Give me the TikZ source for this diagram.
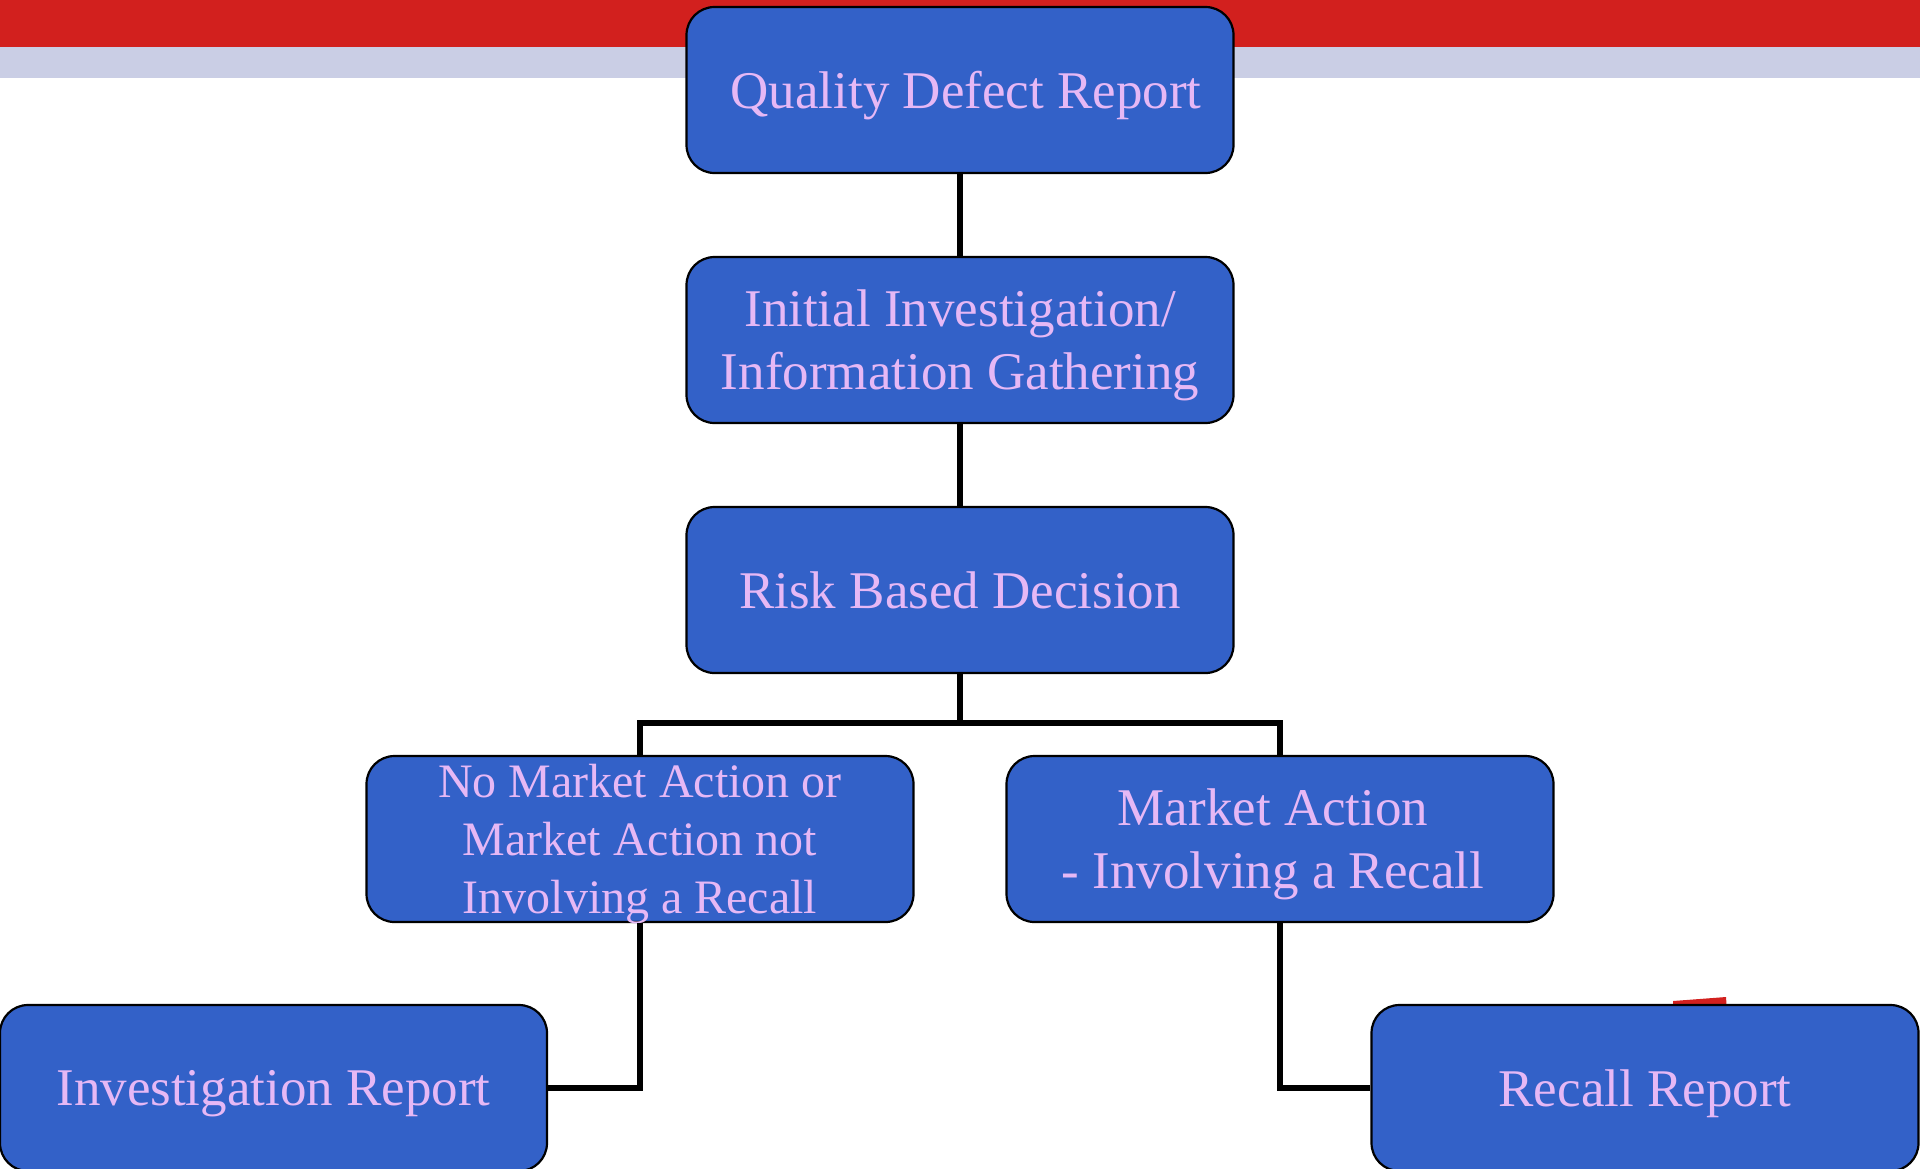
\documentclass[tikz,border=0pt]{standalone}
\usepackage{fontspec}
\setmainfont{Liberation Serif}
\usepackage{tikz}

\definecolor{bandred}{RGB}{210,32,30}
\definecolor{bandgrey}{RGB}{202,206,229}
\definecolor{boxblue}{RGB}{51,97,200}
\definecolor{boxtext}{RGB}{230,184,245}

\tikzset{
  flowbox/.style={draw=black, line width=1.1pt, fill=boxblue, text=boxtext,
    rounded corners=14pt, minimum width=273.5pt, minimum height=83pt,
    inner sep=0pt, text depth=0pt, align=center,
    font=\fontsize{26.5}{31.5}\selectfont},
  smalltext/.style={font=\fontsize{24}{29}\selectfont},
  link/.style={draw=black, line width=2.6pt}
}

\begin{document}
\begin{tikzpicture}[x=0.5pt,y=0.5pt,yscale=-1,xscale=1]
\useasboundingbox (0,0) rectangle (1920,1168);

%Shape: Rectangle [top bands]
\fill [bandred] (0,0) rectangle (1920,46.5);
\fill [bandgrey] (0,46.5) rectangle (1920,78);
%Shape: small red mark behind the recall report
\fill [bandred] (1673,1001) -- (1726,997) -- (1727,1012) -- (1673,1012) -- cycle;

% Text Node
\node [flowbox] (defect) at (960,90) {\kern6pt Quality Defect Report};
% Text Node
\node [flowbox] (gather) at (960,340) {Initial Investigation/\\Information Gathering};
% Text Node
\node [flowbox] (risk) at (960,590) {Risk Based Decision};
% Text Node
\node [flowbox,smalltext] (nomarket) at (640,839) {No Market Action or\\Market Action not\\Involving a Recall};
% Text Node
\node [flowbox] (market) at (1280,839) {Market Action\kern7pt\\- Involving a Recall\kern7pt};
% Text Node
\node [flowbox] (invreport) at (273.5,1088) {Investigation Report};
% Text Node
\node [flowbox] (recreport) at (1645,1088) {Recall Report};

\coordinate (split) at (960,723);

%Straight Lines
\draw [link] (defect.south) -- (gather.north);
\draw [link] (gather.south) -- (risk.north);
\draw [link] (risk.south) -- (split);
\draw [link] (split) -| (nomarket.north);
\draw [link] (split) -| (market.north);
\draw [link] (nomarket.south) |- (invreport.east);
\draw [link] (market.south) |- (recreport.west);

\end{tikzpicture}
\end{document}
